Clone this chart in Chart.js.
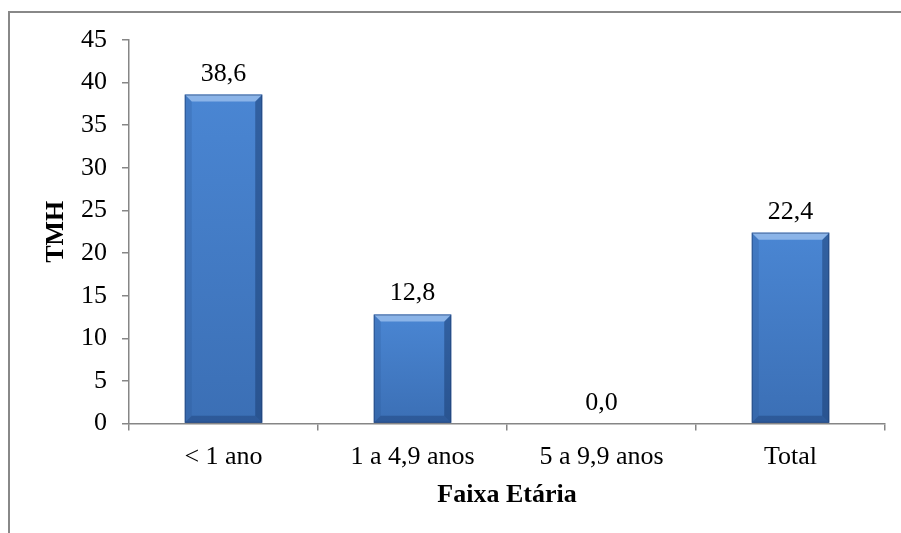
<!DOCTYPE html>
<html>
<head>
<meta charset="utf-8">
<script src="https://cdn.jsdelivr.net/npm/chart.js@4.4.0/dist/chart.umd.min.js"></script>
<style>
  html, body { margin: 0; padding: 0; background: #fff; }
  canvas { display: block; }
</style>
</head>
<body>
<canvas id="chart" width="901" height="533"></canvas>
<script>
// data
const categories = ["< 1 ano", "1 a 4,9 anos", "5 a 9,9 anos", "Total"];
const tmhValues = [38.6, 12.8, 0.0, 22.4];
const yTicks = [0, 5, 10, 15, 20, 25, 30, 35, 40, 45];

const serif = "'Liberation Serif', 'Times New Roman', serif";
const axisGray = "#868686";

function fmt(v) {
    return v.toFixed(1).replace(".", ",");
}

// outer chart frame (right and bottom edges fall outside the picture)
const framePlugin = {
    id: "frame",
    beforeDraw(chart) {
        const ctx = chart.ctx;
        ctx.save();
        ctx.fillStyle = "#fff";
        ctx.fillRect(0, 0, chart.width, chart.height);
        ctx.strokeStyle = "#888";
        ctx.lineWidth = 2;
        ctx.strokeRect(9, 12, 1200, 1200);
        ctx.restore();
    }
};

// bevelled bars like the old office style, plus value labels
const bevelPlugin = {
    id: "bevel",
    afterDatasetsDraw(chart) {
        const ctx = chart.ctx;
        const meta = chart.getDatasetMeta(0);
        meta.data.forEach((bar, i) => {
            const p = bar.getProps(["x", "y", "base", "width"], true);
            const l = p.x - p.width / 2, r = p.x + p.width / 2;
            const t = p.y, b = p.base;
            const h = b - t;
            if (h > 1) {
                const bv = Math.min(7, h / 2);
                ctx.save();
                const g = ctx.createLinearGradient(0, t, 0, b);
                g.addColorStop(0, "#4a86d3");
                g.addColorStop(1, "#3b6fb5");
                ctx.fillStyle = g;
                ctx.fillRect(l, t, r - l, h);
                // left side
                ctx.fillStyle = "rgba(40,80,140,0.22)";
                ctx.beginPath();
                ctx.moveTo(l, t); ctx.lineTo(l + bv, t + bv); ctx.lineTo(l + bv, b - bv); ctx.lineTo(l, b);
                ctx.fill();
                // right side
                ctx.fillStyle = "rgba(20,50,100,0.45)";
                ctx.beginPath();
                ctx.moveTo(r, t); ctx.lineTo(r - bv, t + bv); ctx.lineTo(r - bv, b - bv); ctx.lineTo(r, b);
                ctx.fill();
                // bottom
                ctx.fillStyle = "rgba(20,50,100,0.35)";
                ctx.beginPath();
                ctx.moveTo(l, b); ctx.lineTo(l + bv, b - bv); ctx.lineTo(r - bv, b - bv); ctx.lineTo(r, b);
                ctx.fill();
                // top highlight
                ctx.fillStyle = "#8bb4e8";
                ctx.beginPath();
                ctx.moveTo(l, t); ctx.lineTo(r, t); ctx.lineTo(r - bv, t + bv); ctx.lineTo(l + bv, t + bv);
                ctx.fill();
                ctx.strokeStyle = "rgba(30,60,110,0.6)";
                ctx.lineWidth = 1;
                ctx.strokeRect(l + 0.5, t + 0.5, r - l - 1, h - 1);
                ctx.restore();
            }
            ctx.save();
            ctx.fillStyle = "#000";
            ctx.font = "26px " + serif;
            ctx.textAlign = "center";
            ctx.textBaseline = "alphabetic";
            ctx.fillText(fmt(tmhValues[i]), p.x, t - 14);
            ctx.restore();
        });
    }
};

new Chart(document.getElementById("chart"), {
    type: "bar",
    data: {
        labels: categories,
        datasets: [{
            label: "TMH",
            data: tmhValues,
            backgroundColor: "rgba(0,0,0,0)",
            barPercentage: 0.41,
            categoryPercentage: 1.0
        }]
    },
    options: {
        responsive: false,
        animation: false,
        devicePixelRatio: 1,
        layout: { padding: { left: 10, top: 40, right: 16, bottom: 22 } },
        plugins: {
            legend: { display: false },
            tooltip: { enabled: false }
        },
        scales: {
            x: {
                grid: {
                    offset: true,
                    drawOnChartArea: false,
                    drawTicks: true,
                    tickLength: 7,
                    color: axisGray,
                    lineWidth: 1.5
                },
                border: { color: axisGray, width: 1.5 },
                ticks: {
                    color: "#000",
                    padding: 11,
                    font: { family: serif, size: 26 }
                },
                title: {
                    display: true,
                    text: "Faixa Etária",
                    color: "#000",
                    font: { family: serif, size: 26, weight: "bold" },
                    padding: { top: -4, bottom: 0 }
                }
            },
            y: {
                min: 0,
                max: 45,
                afterBuildTicks(scale) {
                    scale.ticks = yTicks.map(v => ({ value: v }));
                },
                afterFit(scale) {
                    scale.width = 119;
                },
                grid: {
                    drawOnChartArea: false,
                    drawTicks: true,
                    tickLength: 7,
                    color: axisGray,
                    lineWidth: 1.5
                },
                border: { color: axisGray, width: 1.5 },
                ticks: {
                    color: "#000",
                    padding: 15,
                    font: { family: serif, size: 26 }
                },
                title: {
                    display: true,
                    text: "TMH",
                    color: "#000",
                    font: { family: serif, size: 26, weight: "bold" },
                    padding: { top: 31, bottom: 0 }
                }
            }
        }
    },
    plugins: [framePlugin, bevelPlugin]
});
</script>
</body>
</html>
